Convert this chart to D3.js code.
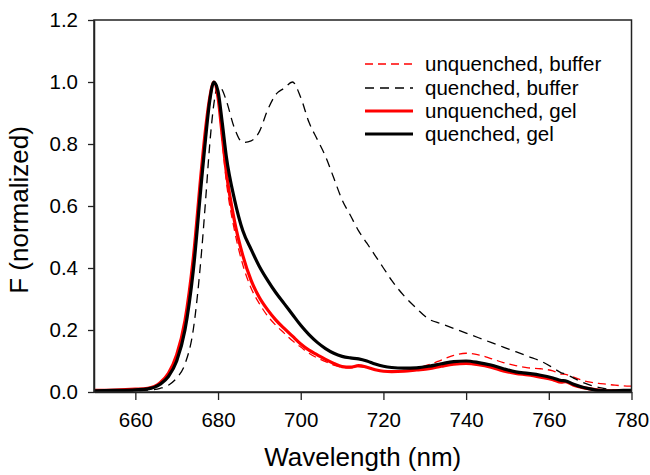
<!DOCTYPE html>
<html><head><meta charset="utf-8">
<script src="https://cdn.jsdelivr.net/npm/d3@7"></script>
<style>body{margin:0;background:#fff}svg{display:block}text{font-family:"Liberation Sans",Arial,sans-serif}</style>
</head><body>
<svg id="c" width="650" height="475"></svg>
<script>
const wavelengths = [650,655,660,663,666,668,670,672,674,676,677,678,679,680,681,682,684,686,688,690,692,694,696,698,700,702,704,706,708,710,712,714,716,718,720,722,725,728,731,734,737,740,743,746,749,752,755,758,761,763,764,766,768,770,772,774,776,778,780];
const unquenchedBuffer = [0.004,0.005,0.008,0.011,0.028,0.055,0.11,0.22,0.42,0.71,0.84,0.95,1.0,0.95,0.81,0.68,0.52,0.41,0.335,0.285,0.245,0.215,0.19,0.165,0.145,0.125,0.11,0.098,0.087,0.08,0.078,0.082,0.078,0.072,0.068,0.067,0.07,0.077,0.088,0.103,0.118,0.125,0.12,0.108,0.095,0.085,0.078,0.075,0.068,0.058,0.057,0.048,0.038,0.032,0.028,0.025,0.022,0.02,0.019];
const quenchedBuffer = [0.002,0.003,0.004,0.006,0.012,0.022,0.045,0.09,0.2,0.45,0.62,0.8,0.93,0.99,0.975,0.94,0.85,0.805,0.81,0.84,0.91,0.96,0.98,1.0,0.95,0.87,0.815,0.76,0.69,0.62,0.57,0.52,0.48,0.44,0.4,0.36,0.31,0.27,0.235,0.22,0.205,0.19,0.175,0.16,0.145,0.13,0.115,0.1,0.078,0.062,0.058,0.045,0.032,0.022,0.015,0.01,0.007,0.005,0.004];
const unquenchedGel = [0.005,0.006,0.009,0.012,0.03,0.06,0.12,0.23,0.43,0.72,0.85,0.95,1.0,0.95,0.83,0.71,0.55,0.44,0.36,0.305,0.265,0.232,0.205,0.18,0.155,0.135,0.12,0.105,0.092,0.082,0.08,0.085,0.08,0.072,0.067,0.066,0.067,0.071,0.075,0.083,0.09,0.092,0.088,0.08,0.068,0.06,0.055,0.048,0.04,0.032,0.033,0.022,0.015,0.01,0.006,0.004,0.004,0.004,0.004];
const quenchedGel = [0.004,0.005,0.007,0.01,0.025,0.05,0.10,0.20,0.39,0.68,0.82,0.94,1.0,0.97,0.87,0.76,0.62,0.52,0.46,0.405,0.36,0.32,0.285,0.25,0.215,0.185,0.16,0.14,0.125,0.115,0.11,0.107,0.1,0.09,0.083,0.079,0.077,0.078,0.083,0.091,0.098,0.1,0.095,0.087,0.075,0.065,0.06,0.054,0.045,0.037,0.036,0.025,0.016,0.01,0.005,0.004,0.004,0.005,0.005];
const seriesNames = ["unquenched, buffer","quenched, buffer","unquenched, gel","quenched, gel"];
const xTicks = [660,680,700,720,740,760,780];
const yTicks = [0,0.2,0.4,0.6,0.8,1.0,1.2];

const series = [
  {name:seriesNames[0], values:unquenchedBuffer, color:"#ff0000", width:1.3, dash:"8,5"},
  {name:seriesNames[1], values:quenchedBuffer, color:"#000000", width:1.3, dash:"9,6"},
  {name:seriesNames[2], values:unquenchedGel, color:"#ff0000", width:3.2, dash:null},
  {name:seriesNames[3], values:quenchedGel, color:"#000000", width:3.2, dash:null}
];

const svg = d3.select("#c");
const L=94, R=631.5, T=20, B=392;
const x = d3.scaleLinear().domain([650,780]).range([L,R]);
const y = d3.scaleLinear().domain([0,1.2]).range([B,T]);

const line = d3.line().x(d=>x(d[0])).y(d=>y(d[1])).curve(d3.curveMonotoneX);
series.forEach(s=>{
  const pts = wavelengths.map((w,j)=>[w,s.values[j]]);
  svg.append("path").attr("d",line(pts)).attr("fill","none")
    .attr("stroke",s.color).attr("stroke-width",s.width)
    .attr("stroke-dasharray",s.dash).attr("stroke-linejoin","round");
});

// frame
svg.append("rect").attr("x",L).attr("y",T).attr("width",R-L).attr("height",B-T)
  .attr("fill","none").attr("stroke","#222").attr("stroke-width",1.5);

const xAxis = svg.append("g").attr("transform",`translate(0,${B})`)
  .call(d3.axisBottom(x).tickValues(xTicks).tickSize(8).tickSizeOuter(0).tickPadding(12));
const yAxis = svg.append("g").attr("transform",`translate(${L},0)`)
  .call(d3.axisLeft(y).tickValues(yTicks).tickFormat(d3.format(".1f")).tickSize(6).tickSizeOuter(0).tickPadding(10));
[xAxis,yAxis].forEach(g=>{
  g.select(".domain").attr("stroke","#222").attr("stroke-width",1.5);
  g.selectAll(".tick line").attr("stroke","#222").attr("stroke-width",1.3);
  g.selectAll(".tick text").attr("fill","#000").style("font-size","20.5px").style("font-family","'Liberation Sans',Arial,sans-serif");
});

svg.append("text").attr("x",(L+R)/2).attr("y",466).attr("text-anchor","middle")
  .style("font-size","26px").text("Wavelength (nm)");
svg.append("text").attr("transform","translate(28,210) rotate(-90)").attr("text-anchor","middle")
  .style("font-size","26px").text("F (normalized)");

// legend
const legY = [64,88,111,134];
series.forEach((s,i)=>{
  svg.append("line").attr("x1",365).attr("x2",413).attr("y1",legY[i]).attr("y2",legY[i])
    .attr("stroke",s.color).attr("stroke-width",s.width).attr("stroke-dasharray",s.dash);
  svg.append("text").attr("x",425).attr("y",legY[i]).attr("dy","0.35em")
    .style("font-size","20.5px").text(s.name);
});
</script>
</body></html>
